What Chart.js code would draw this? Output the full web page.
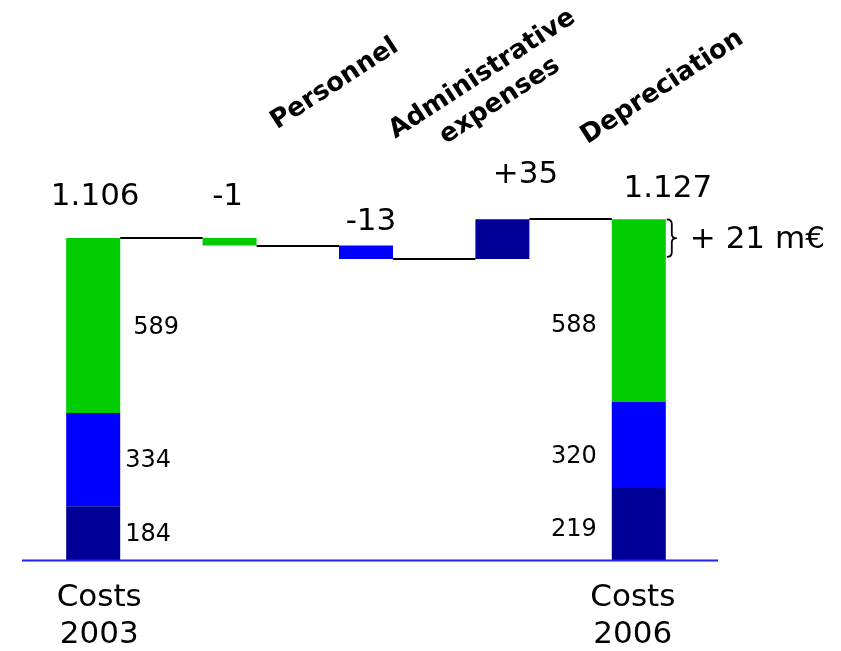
<!DOCTYPE html>
<html>
<head>
<meta charset="utf-8">
<script src="https://cdn.jsdelivr.net/npm/chart.js@4"></script>
<style>
  html, body { margin: 0; padding: 0; background: #fff; }
  #wrap { width: 841px; height: 651px; }
</style>
</head>
<body>
<div id="wrap"><canvas id="chart" width="841" height="651"></canvas></div>
<script>
// categories of the waterfall
var categories = ['Costs 2003', 'Personnel', 'Administrative expenses', 'Depreciation', 'Costs 2006'];
var headLines = [['Costs', '2003'], ['Personnel'], ['Administrative', 'expenses'], ['Depreciation'], ['Costs', '2006']];

// bar ranges [from, to], as drawn in the picture
var navyBars  = [[0, 185], null, null, [1034, 1170], [0, 247]];
var blueBars  = [[185, 505], null, [1034, 1080], null, [247, 543]];
var greenBars = [[505, 1106], [1080, 1106], null, null, [543, 1170]];

// level of the thin line joining bar i to bar i+1
var connectors = [1106, 1080, 1034, 1170];

var totalLabels = ['1.106', '-1', '-13', '+35', '1.127'];
var parts2003 = ['184', '334', '589'];
var parts2006 = ['219', '320', '588'];
var deltaLabel = '+ 21 m\u20ac';

var FONT = "'DejaVu Sans', Verdana, sans-serif";

var labelsPlugin = {
   id: 'waterfallText',
   afterDatasetsDraw: function(chart) {
      var ctx = chart.ctx;
      var y = chart.scales.y;
      var area = chart.chartArea;
      var bars = chart.getDatasetMeta(0).data;
      function cx(i) { return bars[i].x; }
      function half(i) { return bars[i].width / 2; }
      function topOf(i) {
         var v = 0;
         [navyBars, blueBars, greenBars].forEach(function(s) { if (s[i]) v = Math.max(v, s[i][1]); });
         return y.getPixelForValue(v);
      }

      ctx.save();
      // connector lines
      ctx.strokeStyle = '#000';
      ctx.lineWidth = 2;
      for (var i = 0; i < connectors.length; i++) {
         var ly = Math.round(y.getPixelForValue(connectors[i]));
         ctx.beginPath();
         ctx.moveTo(cx(i) + half(i), ly);
         ctx.lineTo(cx(i + 1) - half(i + 1), ly);
         ctx.stroke();
      }

      // blue base line
      var by = y.getPixelForValue(0) + 0.5;
      ctx.strokeStyle = '#2020ee';
      ctx.lineWidth = 2;
      ctx.beginPath();
      ctx.moveTo(area.left - 3, by);
      ctx.lineTo(area.right + 11, by);
      ctx.stroke();

      // total / delta labels above the bars
      var dx = [2, -2, 5, 23, 29];
      var dy = [-41, -41, -24, -44, -30];
      ctx.fillStyle = '#000';
      ctx.font = '31px ' + FONT;
      ctx.textAlign = 'center';
      ctx.textBaseline = 'middle';
      for (i = 0; i < totalLabels.length; i++) {
         ctx.fillText(totalLabels[i], cx(i) + dx[i], topOf(i) + dy[i]);
      }

      // brace and "+ 21 m€"
      var bx = cx(4) + half(4) + 1;
      var yTop = topOf(4);
      var yBot = y.getPixelForValue(connectors[2]) - 2;
      var ym = (yTop + yBot) / 2;
      ctx.lineWidth = 1.8;
      ctx.strokeStyle = '#000';
      ctx.beginPath();
      ctx.moveTo(bx, yTop);
      ctx.quadraticCurveTo(bx + 5, yTop, bx + 5, yTop + 5);
      ctx.lineTo(bx + 5, ym - 4);
      ctx.quadraticCurveTo(bx + 5, ym, bx + 10, ym);
      ctx.quadraticCurveTo(bx + 5, ym, bx + 5, ym + 4);
      ctx.lineTo(bx + 5, yBot - 5);
      ctx.quadraticCurveTo(bx + 5, yBot, bx, yBot);
      ctx.stroke();
      ctx.textAlign = 'left';
      ctx.fillText(deltaLabel, bx + 23, ym + 2);

      // segment values
      ctx.font = '24px ' + FONT;
      function mid(r) { return y.getPixelForValue((r[0] + r[1]) / 2); }
      ctx.textAlign = 'left';
      ctx.fillText(parts2003[0], cx(0) + half(0) + 5, mid(navyBars[0]) + 2);
      ctx.fillText(parts2003[1], cx(0) + half(0) + 5, mid(blueBars[0]) + 1);
      ctx.fillText(parts2003[2], cx(0) + half(0) + 13, mid(greenBars[0]) + 2);
      ctx.textAlign = 'right';
      ctx.fillText(parts2006[0], cx(4) - half(4) - 15, mid(navyBars[4]) + 6);
      ctx.fillText(parts2006[1], cx(4) - half(4) - 15, mid(blueBars[4]) + 12);
      ctx.fillText(parts2006[2], cx(4) - half(4) - 15, mid(greenBars[4]) + 15);

      // bottom category names
      ctx.font = '31px ' + FONT;
      ctx.textAlign = 'center';
      var base = y.getPixelForValue(0);
      [[0, 6], [4, -6]].forEach(function(p) {
         var lines = headLines[p[0]];
         ctx.fillText(lines[0], cx(p[0]) + p[1], base + 38);
         ctx.fillText(lines[1], cx(p[0]) + p[1], base + 75);
      });

      // rotated headers of the middle bars
      ctx.font = 'bold 26px ' + FONT;
      var pos = [null, [105, -154], [125, -158], [160, -132], null];
      var ang = -33 * Math.PI / 180;
      for (i = 1; i <= 3; i++) {
         var lines2 = headLines[i];
         ctx.save();
         ctx.translate(cx(i) + pos[i][0], topOf(i) + pos[i][1]);
         ctx.rotate(ang);
         for (var k = 0; k < lines2.length; k++) {
            var off = (k - (lines2.length - 1) / 2) * 32;
            ctx.fillText(lines2[k], 0, off);
         }
         ctx.restore();
      }
      ctx.restore();
   }
};

var ctx = document.getElementById('chart').getContext('2d');
var chart = new Chart(ctx, {
   type: 'bar',
   data: {
      labels: categories,
      datasets: [
         { label: 'navy', data: navyBars, backgroundColor: '#000099' },
         { label: 'blue', data: blueBars, backgroundColor: '#0000ff' },
         { label: 'green', data: greenBars, backgroundColor: '#00cc00' }
      ]
   },
   options: {
      responsive: false,
      animation: false,
      events: [],
      layout: { padding: { left: 25, right: 134, top: 100, bottom: 91 } },
      datasets: { bar: { categoryPercentage: 0.396, barPercentage: 1, borderWidth: 0 } },
      scales: {
         x: { display: false, stacked: true },
         y: { display: false, min: 0, max: 1580 }
      },
      plugins: { legend: { display: false }, tooltip: { enabled: false } }
   },
   plugins: [labelsPlugin]
});
</script>
</body>
</html>
